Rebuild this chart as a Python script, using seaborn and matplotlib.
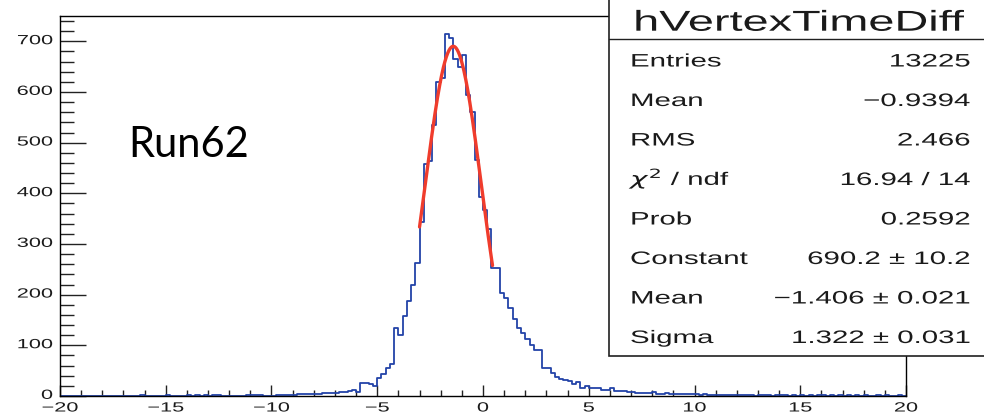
import numpy as np
import pandas as pd
import matplotlib
matplotlib.use("Agg")
import matplotlib.pyplot as plt
import seaborn as sns
from matplotlib import patheffects
from matplotlib.transforms import Affine2D
from matplotlib.patches import Rectangle
from matplotlib.lines import Line2D
from matplotlib.ticker import MultipleLocator

# ---------------- data ----------------
BIN_LO, BIN_HI, N_BINS = -20.0, 20.0, 200

# counts per 0.2-wide bin, from -20 to +20
counts_left_tail = [  # -20.0 .. -6.2
    0, 0, 0, 0, 0, 0, 0, 0, 0, 0,
    0, 0, 0, 0, 0, 0, 0, 0, 0, 1,
    0, 0, 0, 0, 0, 1, 0, 0, 0, 0,
    1, 0, 2, 0, 1, 0, 2, 1, 0, 0,
    0, 0, 0, 0, 1, 2, 1, 1, 0, 0,
    0, 2, 2, 1, 2, 1, 4, 3, 3, 3,
    3, 3, 5, 5, 6, 6, 7, 7, 9, 12,
]
counts_core = [  # -6.0 .. 4.8
    8, 25, 25, 23, 20,
    35, 44, 55, 63, 135, 120, 158, 187, 219, 262,
    344, 458, 464, 535, 620, 627, 714, 706, 666, 650,
    673, 595, 561, 466, 393, 367, 329, 252, 252, 203,
    193, 173, 151, 134, 125, 112, 100, 91, 91, 56,
    55, 46, 38, 33, 32, 30, 24, 27, 16, 19,
]
counts_right_tail = [  # 5.0 .. 19.8
    15, 15, 16, 12, 11, 16, 10, 10, 9, 7,
    7, 6, 6, 5, 6, 7, 4, 4, 5, 3,
    3, 4, 3, 3, 3, 3, 2, 3, 2, 2,
    1, 2, 1, 2, 1, 2, 1, 2, 1, 0,
    2, 1, 1, 0, 2, 1, 1, 0, 1, 0,
    2, 0, 1, 0, 1, 1, 0, 1, 0, 1,
    0, 1, 0, 1, 0, 1, 0, 0, 1, 0,
    1, 0, 0, 1, 0,
]
counts = np.array(counts_left_tail + counts_core + counts_right_tail, dtype=float)

x_tick_values = [-20, -15, -10, -5, 0, 5, 10, 15, 20]
y_tick_values = [0, 100, 200, 300, 400, 500, 600, 700]

# Gaussian fit parameters (from the stats box) and fit range
FIT_CONST, FIT_MEAN, FIT_SIGMA = 690.2, -1.406, 1.322
FIT_RANGE = (-3.0, 0.45)

stats_title = "hVertexTimeDiff"
stats_labels = ["Entries", "Mean", "RMS", r"$\chi^{2}$ / ndf", "Prob",
                "Constant", "Mean", "Sigma"]
stats_values = ["13225", "\u22120.9394", "2.466", "16.94 / 14", "0.2592",
                "690.2 \u00b1 10.2", "\u22121.406 \u00b1 0.021", "1.322 \u00b1 0.031"]
annotation = "Run62"

# ---------------- style ----------------
sns.set_style("ticks")
plt.rcParams["font.family"] = ["Liberation Sans", "DejaVu Sans"]
plt.rcParams["axes.unicode_minus"] = True

BLUE = "#2343a8"
RED = "#f03c2c"
TXT = "#1a1a1a"
SX = 1.63  # horizontal stretch of the original canvas


class Stretch(patheffects.AbstractPathEffect):
    """Scale glyphs about the text anchor (horizontal stretch of the canvas)."""

    def __init__(self, sx, ha="left", sy=1.0, vmid=False):
        super().__init__()
        self.sx = sx
        self.sy = sy
        self.ha = ha
        self.vmid = vmid

    def draw_path(self, renderer, gc, tpath, affine, rgbFace=None):
        ext = tpath.get_extents()
        if self.ha == "right":
            cx = ext.x1
        elif self.ha == "center":
            cx = 0.5 * (ext.x0 + ext.x1)
        else:
            cx = 0.0
        cy = 0.5 * (ext.y0 + ext.y1) if self.vmid else 0.0
        pre = (Affine2D().translate(-cx, -cy)
               .scale(self.sx, self.sy).translate(cx, cy))
        renderer.draw_path(gc, tpath, pre + affine, rgbFace)


def fmt(v):
    return f"{v:d}".replace("-", "\u2212")


W, H = 984, 415
fig = plt.figure(figsize=(W / 100, H / 100), dpi=100)
ax = fig.add_axes([60 / W, 19 / H, 846 / W, 380 / H])

edges = np.linspace(BIN_LO, BIN_HI, N_BINS + 1)
centers = 0.5 * (edges[:-1] + edges[1:])
df = pd.DataFrame({"t": centers, "n": counts})
sns.histplot(data=df, x="t", weights="n", bins=[float(e) for e in edges],
             element="step", fill=False, color=BLUE, linewidth=1.3, ax=ax,
             zorder=2)

xf = np.linspace(FIT_RANGE[0], FIT_RANGE[1], 200)
yf = FIT_CONST * np.exp(-0.5 * ((xf - FIT_MEAN) / FIT_SIGMA) ** 2)
fit_df = pd.DataFrame({"x": xf, "y": yf})
sns.lineplot(data=fit_df, x="x", y="y", color=RED, linewidth=2.4,
             ax=ax, sort=False, estimator=None, zorder=3)

ax.set_xlim(BIN_LO, BIN_HI)
ax.set_ylim(0, 750)
ax.set_xlabel("")
ax.set_ylabel("")

ax.set_xticks(x_tick_values)
ax.set_yticks(y_tick_values)
ax.xaxis.set_minor_locator(MultipleLocator(1))
ax.yaxis.set_minor_locator(MultipleLocator(20))

for sp in ax.spines.values():
    sp.set_visible(True)
    sp.set_linewidth(1.0)
    sp.set_color("black")

ax.tick_params(axis="y", which="major", direction="in", length=18.7,
               width=1.0, color="#222222")
ax.tick_params(axis="y", which="minor", direction="in", length=10,
               width=1.0, color="#222222")
ax.tick_params(axis="x", which="major", direction="in", length=8,
               width=1.0, color="#222222")
ax.tick_params(axis="x", which="minor", direction="in", length=4.3,
               width=1.0, color="#222222")
ax.tick_params(top=False, right=False, labelbottom=False, labelleft=False,
               which="both")

# tick labels as stretched figure-level text (like the stretched canvas);
# drawn at 13 pt and scaled down to the ~9.6 pt size of the original
LBL_FS = 13.0
LBL_K = 9.6 / LBL_FS
to_fig = fig.transFigure.inverted()
for v in x_tick_values:
    px, py = to_fig.transform(
        ax.get_xaxis_transform().transform((v, (396 - 411.5) / 380)))
    fig.text(px, py, fmt(v), ha="center", va="baseline", fontsize=LBL_FS,
             color=TXT, zorder=7,
             path_effects=[Stretch(SX * LBL_K, "center", sy=LBL_K)])
for v in y_tick_values:
    px, py = to_fig.transform(
        ax.get_yaxis_transform().transform(((53 - 60) / 846, v)))
    fig.text(px, py, fmt(v), ha="right", va="center", fontsize=LBL_FS,
             color=TXT, zorder=7,
             path_effects=[Stretch(SX * LBL_K, "right", sy=LBL_K, vmid=True)])

# annotation added on top (not stretched)
ax.text(128 / W, 1 - 157 / H, annotation, transform=fig.transFigure,
        fontsize=30, family=["Lato", "DejaVu Sans"], color="black",
        ha="left", va="baseline")

# ---------------- stats box ----------------
bx0, by0 = 609 / W, 1 - 356 / H
fig.add_artist(Rectangle((bx0, by0), 1.02 - bx0, 1.02 - by0,
                         transform=fig.transFigure, facecolor="white",
                         edgecolor="#202020", linewidth=1.2, zorder=5))
fig.add_artist(Line2D([bx0, 1.0], [1 - 39.3 / H, 1 - 39.3 / H],
                      transform=fig.transFigure, color="#202020",
                      linewidth=1.0, zorder=6))
fig.text(799 / W, 1 - 30.7 / H, stats_title, ha="center", va="baseline",
         fontsize=20.7, color=TXT, zorder=7,
         path_effects=[Stretch(SX, "center")])
for i, (lab, val) in enumerate(zip(stats_labels, stats_values)):
    yb = 1 - (66.5 + 39.5 * i) / H
    fig.text(630 / W, yb, lab, ha="left", va="baseline", fontsize=13,
             color=TXT, zorder=7, path_effects=[Stretch(SX, "left")])
    fig.text(970 / W, yb, val, ha="right", va="baseline", fontsize=13,
             color=TXT, zorder=7, path_effects=[Stretch(SX, "right")])

fig.savefig("out.png", dpi=100)
